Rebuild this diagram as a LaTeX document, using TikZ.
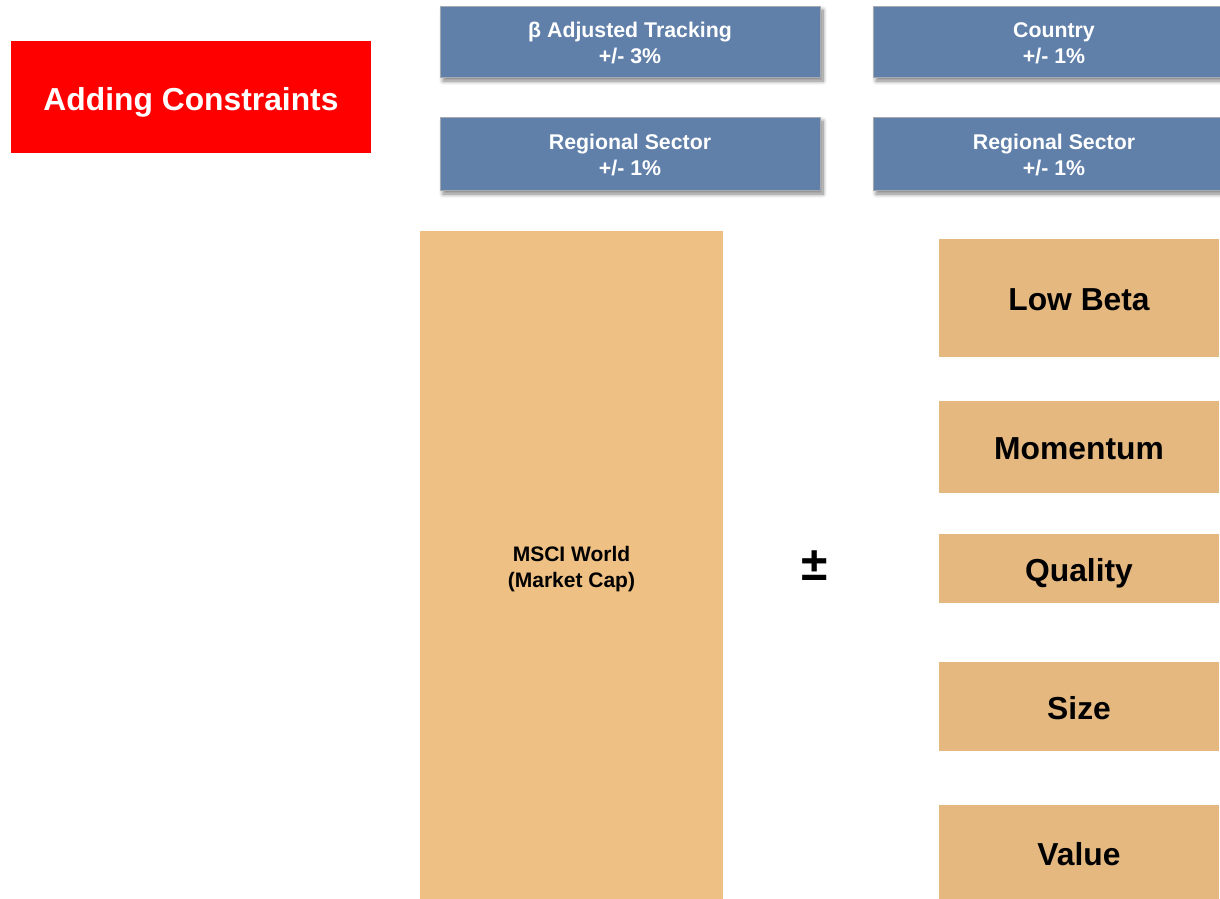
\documentclass[tikz,border=0pt]{standalone}
\usepackage{fontspec}
\setmainfont{Liberation Sans}
\usepackage{xcolor}
\usepackage{tikz}
\usetikzlibrary{shadows.blur}

\definecolor{steel}{RGB}{96,128,170}
\definecolor{steelrim}{RGB}{165,170,178}
\definecolor{capsand}{RGB}{238,192,131}
\definecolor{factsand}{RGB}{229,184,128}

\begin{document}
\begin{tikzpicture}[x=1pt, y=-1pt,
  limit/.style = {rectangle, fill=steel, draw=steelrim, line width=1pt,
    inner sep=0pt, align=center, text=white,
    text height=44pt, text depth=0pt,
    font=\fontsize{21.3}{26}\selectfont\bfseries,
    blur shadow={shadow xshift=3pt, shadow yshift=-4pt,
      shadow blur radius=4pt, shadow opacity=50, shadow blur steps=10}},
  factor/.style = {rectangle, fill=factsand, inner sep=0pt,
    minimum width=280pt, text height=25pt, text depth=0pt,
    font=\fontsize{31.8}{36}\selectfont\bfseries}]

\useasboundingbox (0,0) rectangle (1220,898);
\clip (0,0) rectangle (1220,898);

\node[rectangle, fill=red, minimum width=360pt, minimum height=112pt,
  text height=26pt, text depth=0pt,
  text=white, font=\fontsize{31.8}{36}\selectfont\bfseries] (AC)
  at (191,97) {Adding Constraints};

\node[limit, minimum width=380pt, minimum height=71pt] (BT)
  at (630,41.5) {β Adjusted Tracking\\+/- 3\%};
\node[limit, minimum width=380pt, minimum height=73pt] (RS1)
  at (630,153.5) {Regional Sector\\+/- 1\%};
\node[limit, minimum width=362pt, minimum height=71pt] (CT)
  at (1054,41.5) {Country\\+/- 1\%};
\node[limit, minimum width=362pt, minimum height=73pt] (RS2)
  at (1054,153.5) {Regional Sector\\+/- 1\%};

\node[rectangle, fill=capsand, inner sep=0pt, minimum width=303pt,
  minimum height=672pt, align=center, text height=41pt, text depth=0pt,
  font=\fontsize{21}{26}\selectfont\bfseries] (MW)
  at (571.5,567) {MSCI World\\(Market Cap)};

\node[font=\fontsize{48}{50}\selectfont\bfseries] (PM) at (815,566) {±};

\node[factor, minimum height=118pt] (LB) at (1079,298) {Low Beta};
\node[factor, minimum height=92pt] (MO) at (1079,447) {Momentum};
\node[factor, minimum height=69pt] (QU) at (1079,568.5) {Quality};
\node[factor, minimum height=89pt] (SZ) at (1079,706.5) {Size};
\node[factor, minimum height=96pt] (VA) at (1079,853) {Value};

\end{tikzpicture}
\end{document}
